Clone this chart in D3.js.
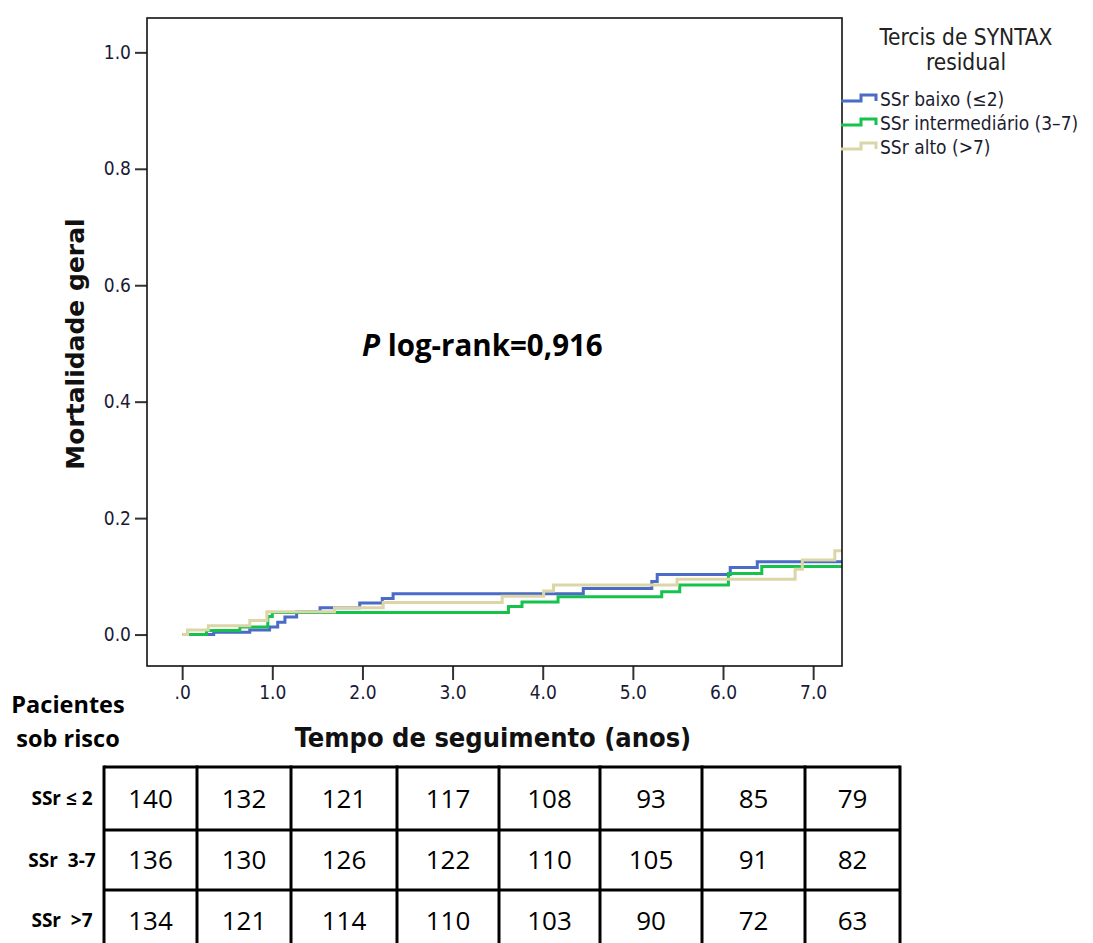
<!DOCTYPE html>
<html>
<head>
<meta charset="utf-8">
<script src="https://cdn.jsdelivr.net/npm/d3@7"></script>
<style>
  html, body { margin: 0; padding: 0; background: #fff; }
  svg { display: block; }
  text { white-space: pre; }
</style>
</head>
<body>
<svg id="chart" width="1093" height="943"></svg>
<script>
// ---- Data -------------------------------------------------------------
// Kaplan-Meier cumulative mortality (step functions), time in years
const seriesNames = ["SSr baixo (≤2)", "SSr intermediário (3–7)", "SSr alto (>7)"];

const baixoTimes  = [0, 0.35, 0.75, 0.97, 1.06, 1.14, 1.27, 1.53, 1.97, 2.22, 2.34, 4.45, 5.21, 5.27, 6.08, 6.38, 7.32];
const baixoValues = [0, 0.004, 0.008, 0.013, 0.021, 0.030, 0.039, 0.046, 0.054, 0.062, 0.070, 0.079, 0.091, 0.103, 0.115, 0.125, 0.125];

const interTimes  = [0, 0.27, 0.64, 0.95, 1.00, 3.62, 3.77, 4.17, 5.32, 5.52, 6.06, 6.43, 7.32];
const interValues = [0, 0.007, 0.013, 0.031, 0.038, 0.048, 0.056, 0.065, 0.0735, 0.085, 0.105, 0.117, 0.117];

const altoTimes   = [0, 0.06, 0.29, 0.75, 0.94, 1.69, 2.23, 3.55, 4.01, 4.12, 5.49, 6.80, 6.88, 7.24, 7.32];
const altoValues  = [0, 0.008, 0.015, 0.024, 0.039, 0.046, 0.055, 0.066, 0.075, 0.085, 0.095, 0.112, 0.128, 0.144, 0.144];

const xTicks = [0, 1, 2, 3, 4, 5, 6, 7];
const yTicks = [0, 0.2, 0.4, 0.6, 0.8, 1.0];

// Patients at risk table
const riskRowLabels = ["SSr ≤ 2", "SSr  3-7", "SSr  >7"];
const riskBaixo = [140, 132, 121, 117, 108, 93, 85, 79];
const riskInter = [136, 130, 126, 122, 110, 105, 91, 82];
const riskAlto  = [134, 121, 114, 110, 103, 90, 72, 63];

const pValueText = "0,916";

// ---- Layout & style ---------------------------------------------------
const frame = { left: 147, right: 842, top: 18, bottom: 666 };
const colors = ["#4a6bc6", "#14c24c", "#dcd5a6"];
const tableCols = [104, 197, 291, 397, 499, 600, 702, 805, 900];
const tableRows = [767, 830, 890, 951];

const svg = d3.select("#chart");

const x = d3.scaleLinear().domain([-0.39, 7.32]).range([frame.left, frame.right]);
const y = d3.scaleLinear().domain([-0.054, 1.059]).range([frame.bottom, frame.top]);

// Clip region for the curves
svg.append("defs").append("clipPath").attr("id", "plotClip")
  .append("rect")
  .attr("x", frame.left).attr("y", frame.top)
  .attr("width", frame.right - frame.left).attr("height", frame.bottom - frame.top);

// Axes (ticks outside the frame)
const tickFont = "'DejaVu Sans Condensed', 'DejaVu Sans', sans-serif";

const xAxis = svg.append("g")
  .attr("transform", `translate(0,${frame.bottom})`)
  .call(d3.axisBottom(x).tickValues(xTicks).tickSize(14).tickPadding(6)
        .tickFormat(d => d === 0 ? ".0" : d3.format(".1f")(d)));
xAxis.select(".domain").remove();
xAxis.selectAll(".tick line").attr("stroke", "#333").attr("stroke-width", 2);
xAxis.selectAll(".tick text")
  .attr("font-family", tickFont).attr("font-size", 19).attr("fill", "#1a1a36");

const yAxis = svg.append("g")
  .attr("transform", `translate(${frame.left},0)`)
  .call(d3.axisLeft(y).tickValues(yTicks).tickSize(12).tickPadding(4)
        .tickFormat(d3.format(".1f")));
yAxis.select(".domain").remove();
yAxis.selectAll(".tick line").attr("stroke", "#333").attr("stroke-width", 2);
yAxis.selectAll(".tick text")
  .attr("font-family", tickFont).attr("font-size", 19).attr("fill", "#1a1a36");

// Survival step curves
const series = [
  { name: seriesNames[0], times: baixoTimes, values: baixoValues, color: colors[0] },
  { name: seriesNames[1], times: interTimes, values: interValues, color: colors[1] },
  { name: seriesNames[2], times: altoTimes,  values: altoValues,  color: colors[2] }
];

const line = d3.line()
  .x(d => x(d[0]))
  .y(d => y(d[1]))
  .curve(d3.curveStepAfter);

svg.append("g").attr("clip-path", "url(#plotClip)")
  .selectAll("path")
  .data(series)
  .join("path")
  .attr("d", s => line(s.times.map((t, i) => [t, s.values[i]])))
  .attr("fill", "none")
  .attr("stroke", s => s.color)
  .attr("stroke-width", 3);

// Plot frame
svg.append("rect")
  .attr("x", frame.left).attr("y", frame.top)
  .attr("width", frame.right - frame.left).attr("height", frame.bottom - frame.top)
  .attr("fill", "none").attr("stroke", "#111").attr("stroke-width", 1.6);

// Axis titles
svg.append("text")
  .attr("transform", "translate(84,344) rotate(-90)")
  .attr("text-anchor", "middle")
  .attr("font-family", "'DejaVu Sans', sans-serif")
  .attr("font-weight", "bold").attr("font-size", 25).attr("fill", "#111")
  .text("Mortalidade geral");

svg.append("text")
  .attr("x", 493).attr("y", 747)
  .attr("text-anchor", "middle")
  .attr("font-family", "'DejaVu Sans Condensed', 'DejaVu Sans', sans-serif")
  .attr("font-weight", "bold").attr("font-size", 27).attr("fill", "#111")
  .text("Tempo de seguimento (anos)");

// Log-rank annotation
const pText = svg.append("text")
  .attr("x", 362).attr("y", 356)
  .attr("font-family", "'Open Sans', sans-serif")
  .attr("font-weight", "bold").attr("font-size", 29.5).attr("fill", "#000");
pText.append("tspan").attr("font-style", "italic").text("P");
pText.append("tspan").text(" log-rank=" + pValueText);

// Legend
const legend = svg.append("g");
legend.selectAll("text.title")
  .data(["Tercis de SYNTAX", "residual"])
  .join("text")
  .attr("class", "title")
  .attr("x", 966).attr("y", (d, i) => 45 + i * 25)
  .attr("text-anchor", "middle")
  .attr("font-family", tickFont).attr("font-size", 22.5).attr("fill", "#222")
  .text(d => d);

const item = legend.selectAll("g.item")
  .data(series)
  .join("g")
  .attr("class", "item")
  .attr("transform", (d, i) => `translate(0,${100 + i * 24})`);
item.append("path")
  .attr("d", "M841,1 H861 V-5 H876 V1")
  .attr("fill", "none").attr("stroke", d => d.color).attr("stroke-width", 3);
item.append("text")
  .attr("x", 880).attr("y", 6)
  .attr("font-family", tickFont).attr("font-size", 19).attr("fill", "#1c1c30")
  .text(d => d.name);

// Patients-at-risk header
svg.append("g").selectAll("text")
  .data(["Pacientes", "sob risco"])
  .join("text")
  .attr("x", 68).attr("y", (d, i) => 713 + i * 34)
  .attr("text-anchor", "middle")
  .attr("font-family", "'Open Sans', sans-serif")
  .attr("font-weight", "bold").attr("font-size", 23.5).attr("fill", "#000")
  .text(d => d);

// Patients-at-risk table
const riskData = [riskBaixo, riskInter, riskAlto];
const table = svg.append("g");

tableRows.forEach(ry => {
  table.append("line")
    .attr("x1", tableCols[0]).attr("x2", tableCols[tableCols.length - 1])
    .attr("y1", ry).attr("y2", ry)
    .attr("stroke", "#000").attr("stroke-width", 3);
});
tableCols.forEach(cx => {
  table.append("line")
    .attr("x1", cx).attr("x2", cx)
    .attr("y1", tableRows[0] - 1.5).attr("y2", tableRows[tableRows.length - 1])
    .attr("stroke", "#000").attr("stroke-width", 3);
});

riskData.forEach((row, r) => {
  const cy = (tableRows[r] + tableRows[r + 1]) / 2;
  table.append("text")
    .attr("x", 62).attr("y", cy)
    .attr("dy", "0.35em")
    .attr("text-anchor", "middle")
    .attr("font-family", "'Open Sans', sans-serif")
    .attr("font-weight", "bold").attr("font-size", 19).attr("fill", "#000")
    .text(riskRowLabels[r]);
  table.selectAll(null)
    .data(row)
    .join("text")
    .attr("x", (d, i) => (tableCols[i] + tableCols[i + 1]) / 2)
    .attr("y", cy)
    .attr("dy", "0.36em")
    .attr("text-anchor", "middle")
    .attr("font-family", "'Open Sans', sans-serif")
    .attr("font-size", 26).attr("fill", "#000")
    .text(d => d);
});
</script>
</body>
</html>
